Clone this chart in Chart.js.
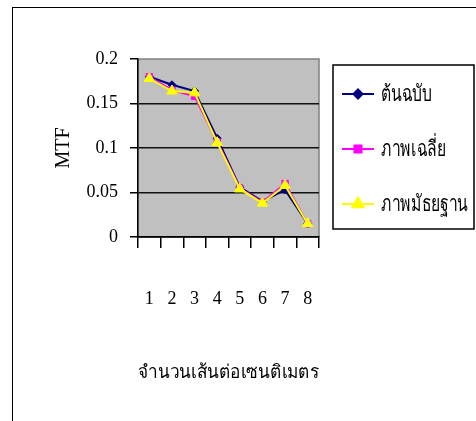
<!DOCTYPE html>
<html>
<head>
<meta charset="utf-8">
<script src="https://cdn.jsdelivr.net/npm/chart.js@4/dist/chart.umd.min.js"></script>
<style>
  html, body { margin: 0; padding: 0; background: #fff; }
  #wrap { position: relative; width: 476px; height: 421px; overflow: hidden; }
  #frame { position: absolute; left: 12px; top: 7px; width: 600px; height: 600px;
           border-left: 1.5px solid #000; border-top: 1.5px solid #000; box-sizing: border-box; }
  canvas { position: absolute; left: 0; top: 0; }
</style>
</head>
<body>
<div id="wrap">
  <div id="frame"></div>
  <canvas id="c" width="476" height="421"></canvas>
</div>
<script>
const categories = ['1', '2', '3', '4', '5', '6', '7', '8'];
const seriesNames = ['ต้นฉบับ', 'ภาพเฉลี่ย', 'ภาพมัธยฐาน'];
const original = [0.180, 0.171, 0.164, 0.111, 0.056, 0.040, 0.053, 0.015];
const meanImage = [0.180, 0.165, 0.158, 0.107, 0.055, 0.039, 0.060, 0.015];
const medianImage = [0.178, 0.164, 0.162, 0.106, 0.054, 0.038, 0.058, 0.015];
const yTickLabels = ['0', '0.05', '0.1', '0.15', '0.2'];
const yTitle = 'MTF';
const xTitle = 'จำนวนเส้นต่อเซนติเมตร';

const SERIF = "'Liberation Serif', 'Times New Roman', serif";
const colors = ['#000080', '#FF00FF', '#FFFF00'];
const styles = ['rectRot', 'rect', 'triangle'];
const radii = [4, 4.5, 6];

const bgPlugin = {
  id: 'plotBg',
  beforeDraw(chart) {
    const {ctx, chartArea: a} = chart;
    ctx.save();
    ctx.fillStyle = '#C0C0C0';
    ctx.fillRect(a.left, a.top, a.right - a.left, a.bottom - a.top);
    ctx.strokeStyle = '#808080';
    ctx.lineWidth = 1.5;
    ctx.strokeRect(a.left, a.top, a.right - a.left, a.bottom - a.top);
    ctx.restore();
  }
};

const legendPlugin = {
  id: 'boxLegend',
  afterDraw(chart) {
    const {ctx} = chart;
    const bx = 333, by = 65, bw = 141, bh = 164;
    ctx.save();
    ctx.fillStyle = '#fff';
    ctx.fillRect(bx, by, bw, bh);
    ctx.strokeStyle = '#000';
    ctx.lineWidth = 1.5;
    ctx.strokeRect(bx, by, bw, bh);
    const rows = [94, 149, 204];
    ctx.font = "22px " + SERIF;
    const longest = Math.max(...chart.data.datasets.map(d => ctx.measureText(d.label).width));
    const sx = Math.min(1, 87 / longest);
    chart.data.datasets.forEach((ds, i) => {
      const y = rows[i];
      ctx.strokeStyle = ds.borderColor;
      ctx.lineWidth = 2;
      ctx.beginPath();
      ctx.moveTo(342, y);
      ctx.lineTo(374, y);
      ctx.stroke();
      ctx.fillStyle = ds.backgroundColor;
      ctx.strokeStyle = ds.borderColor;
      Chart.helpers.drawPoint(ctx, {pointStyle: ds.pointStyle, radius: ds.pointRadius + 0.5, borderWidth: 1}, 358, y);
      ctx.save();
      ctx.translate(381, y + 1);
      ctx.scale(sx, 1);
      ctx.fillStyle = '#000';
      ctx.font = "22px " + SERIF;
      ctx.textBaseline = 'middle';
      ctx.textAlign = 'left';
      ctx.fillText(ds.label, 0, 0);
      ctx.restore();
    });
    ctx.restore();
  }
};

const seriesData = [original, meanImage, medianImage];

new Chart(document.getElementById('c'), {
  type: 'line',
  data: {
    labels: categories,
    datasets: seriesData.map((d, i) => ({
      label: seriesNames[i],
      data: d,
      borderColor: colors[i],
      backgroundColor: colors[i],
      pointStyle: styles[i],
      pointRadius: radii[i],
      pointBorderWidth: 1,
      borderWidth: 2,
      tension: 0,
      order: 2 - i
    }))
  },
  options: {
    responsive: false,
    animation: false,
    layout: { padding: { left: 48, top: 59, right: 157, bottom: 33 } },
    plugins: { legend: { display: false }, tooltip: { enabled: false } },
    scales: {
      x: {
        offset: true,
        grid: { offset: true, drawOnChartArea: false, tickLength: 11, color: '#000', lineWidth: 1.5 },
        border: { color: '#000', width: 1.5 },
        ticks: { color: '#000', font: { family: SERIF, size: 18 }, padding: 40, maxRotation: 0 },
        title: { display: true, text: xTitle, color: '#000', font: { family: SERIF, size: 18.5 }, padding: { top: 4, bottom: 4 } },
        afterFit(s) { s.height = 151; }
      },
      y: {
        min: 0, max: 0.2,
        ticks: {
          stepSize: 0.05, color: '#000', padding: 12,
          font: { family: SERIF, size: 18 },
          callback: (v, i) => yTickLabels[i]
        },
        grid: {
          color: (c) => (c.index === 4 ? 'rgba(0,0,0,0)' : '#111'),
          tickColor: '#000', tickLength: 8, lineWidth: 1.5
        },
        border: { color: '#000', width: 1.5 },
        title: { display: true, text: yTitle, color: '#000', font: { family: SERIF, size: 20 }, padding: { top: 4, bottom: 4 } },
        afterFit(s) { s.width = 90; }
      }
    }
  },
  plugins: [bgPlugin, legendPlugin]
});
</script>
</body>
</html>
